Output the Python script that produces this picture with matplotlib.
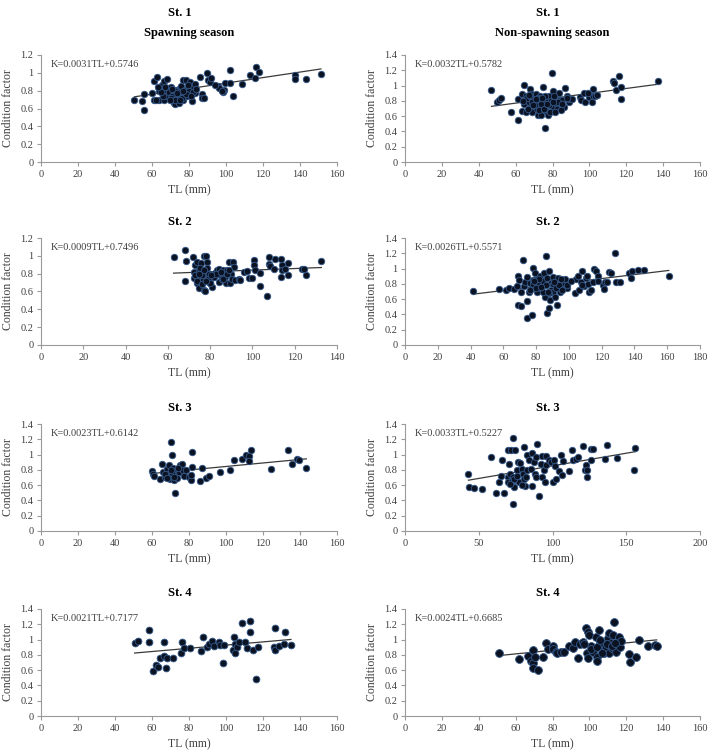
import matplotlib
matplotlib.use("Agg")
import matplotlib.pyplot as plt
import numpy as np

plt.rcParams['font.family'] = ['Liberation Serif', 'DejaVu Serif']

# ---------------- data ----------------
# St.1 spawning season
st1_sp_tl = [50.5, 54.6, 55.5, 55.5, 60, 61.3, 62.7, 61, 63.6, 64, 65.4, 66.3, 66, 66.3, 68, 68.6, 67.4, 68,
             70, 70.8, 71.4, 71.7, 73, 73.5, 72.6, 74.4, 75.3, 76.2, 75.7, 77, 76.8, 78, 78.6, 79, 79.8, 80.7,
             81.6, 82, 83.4, 83, 86, 87, 87, 88.3, 89.7, 90, 91.5, 95.5, 96, 98.7, 98.4, 99.6, 102.3, 102.3,
             103.8, 108.6, 113, 115.5, 116.4, 117.7, 137.5, 137.5, 143.2, 151.3,
             72, 74, 76, 69, 71, 73, 77, 80, 82, 66, 64, 62, 70, 72.5, 74.5, 75, 78.5, 79.5, 69.5, 67, 65, 63,
             71, 73.5, 76.5, 81, 84, 97.7, 94, 91.9]
st1_sp_k = [0.70, 0.686, 0.76, 0.585, 0.77, 0.91, 0.95, 0.70, 0.82, 0.70, 0.865, 0.91, 0.77, 0.70, 0.93, 0.835,
            0.81, 0.735, 0.846, 0.77, 0.70, 0.66, 0.81, 0.735, 0.65, 0.66, 0.83, 0.75, 0.85, 0.92, 0.70, 0.81,
            0.92, 0.735, 0.83, 0.90, 0.68, 0.846, 0.876, 0.77, 0.95, 0.76, 0.715, 0.715, 0.995, 0.92, 0.895,
            0.853, 0.827, 0.81, 0.78, 0.89, 1.03, 0.89, 0.742, 0.872, 0.976, 0.94, 1.06, 1.014, 0.976, 0.93,
            0.93, 0.988,
            0.78, 0.76, 0.72, 0.78, 0.74, 0.80, 0.78, 0.80, 0.78, 0.74, 0.80, 0.69, 0.72, 0.69, 0.79, 0.70,
            0.76, 0.86, 0.70, 0.84, 0.78, 0.84, 0.82, 0.77, 0.80, 0.74, 0.82, 0.80, 0.867, 0.94]

# St.1 non-spawning season
st1_ns_tl = [46.9, 50.1, 51, 52, 57.7, 61.4, 61.4, 63.2, 64.3, 63.2, 64.6, 65.5, 65.5, 67, 67.7, 68.2, 68.6,
             69.1, 70, 70.6, 71, 71.5, 71.9, 72.8, 73.3, 73.7, 74.6, 75.1, 75.1, 76, 76.7, 77.3, 77.8, 78.2,
             79.6, 80, 80.4, 80.9, 82.4, 82.7, 83.3, 84, 85.4, 86.3, 86.9, 87.6, 88.7, 89, 90.5, 94.8, 95.4,
             97.2, 97.7, 99.9, 101.2, 102, 102, 103.2, 112.9, 113.5, 114.2, 116.3, 117.4, 117.4, 137,
             66, 68, 69, 70.5, 72, 73, 74, 76, 78, 79, 81, 83, 85, 66.5, 69.5, 72.5, 75.5, 78.5, 81.5, 64,
             67.5, 71, 74.5, 77, 80, 84.5, 88, 99, 104]
st1_ns_k = [0.944, 0.784, 0.815, 0.836, 0.655, 0.556, 0.82, 0.89, 1.01, 0.664, 0.763, 0.87, 0.655, 0.79, 0.957,
            0.89, 0.72, 0.655, 0.815, 0.763, 0.89, 0.70, 0.62, 0.79, 0.87, 0.62, 0.72, 0.98, 0.79, 0.448,
            0.664, 0.806, 0.61, 0.87, 1.16, 0.935, 0.72, 0.815, 0.763, 0.70, 0.90, 0.806, 0.815, 0.72, 0.97,
            0.87, 0.784, 0.827, 0.827, 0.85, 0.806, 0.90, 0.784, 0.85, 0.784, 0.957, 0.86, 0.87, 1.056, 1.03,
            0.944, 1.13, 0.987, 0.82, 1.056,
            0.84, 0.86, 0.78, 0.74, 0.84, 0.82, 0.76, 0.86, 0.74, 0.80, 0.86, 0.78, 0.76, 0.70, 0.74, 0.68,
            0.70, 0.66, 0.66, 0.80, 0.88, 0.83, 0.84, 0.76, 0.78, 0.68, 0.84, 0.90, 0.88]

# St.2 spawning season
st2_sp_tl = [62.7, 68.3, 68.7, 68, 71.7, 72.2, 72.2, 72.9, 73.8, 73.8, 74.6, 74.9, 75.4, 75.8, 76.5, 77, 77.3,
             77.7, 77.7, 78.2, 78.5, 78.5, 78.8, 79.3, 79.8, 81, 81.4, 82.5, 83.2, 84, 84, 84.8, 85.6, 86.1,
             86.7, 87.5, 88, 88.8, 89.2, 89.9, 90.3, 90.8, 91.1, 91.9, 93.5, 94.3, 95.9, 97.4, 98.2, 99.8,
             100.9, 100.9, 101.4, 103.7, 103.7, 106.9, 107.7, 107.7, 108.2, 110.1, 110.9, 113.7, 114, 113.7,
             114, 115.6, 116.7, 116.8, 123.4, 124.5, 125.5, 132.6,
             73, 74, 75, 76, 77, 79, 80, 82, 83, 85, 87, 88, 76, 74.5, 78, 80.5, 86, 89]
st2_sp_k = [0.988, 1.062, 0.94, 0.72, 0.988, 0.82, 0.757, 0.894, 0.93, 0.69, 0.634, 0.838, 0.764, 0.92, 0.727,
            1.0, 0.622, 0.604, 0.80, 1.0, 0.93, 0.868, 0.727, 0.794, 0.69, 0.652, 0.764, 0.81, 0.838, 0.708,
            0.857, 0.783, 0.745, 0.838, 0.794, 0.69, 0.845, 0.93, 0.69, 0.80, 0.745, 0.93, 0.876, 0.727,
            0.745, 0.727, 0.82, 0.827, 0.757, 0.757, 0.95, 0.894, 0.838, 0.81, 0.66, 0.555, 0.988, 0.913,
            0.883, 0.857, 0.96, 0.96, 0.894, 0.764, 0.845, 0.85, 0.92, 0.783, 0.85, 0.85, 0.783, 0.94,
            0.78, 0.72, 0.86, 0.78, 0.84, 0.74, 0.70, 0.76, 0.80, 0.82, 0.76, 0.80, 0.68, 0.80, 0.72, 0.78,
            0.74, 0.84]

# St.2 non-spawning season
st2_ns_tl = [41.5, 57.4, 61.9, 63.5, 66.6, 68.6, 69.2, 69.6, 69.2, 71, 70.7, 71.7, 72.7, 73.3, 74.3, 74.7,
             74.7, 75.7, 76.2, 77.2, 77.4, 77.8, 78.4, 79.2, 79.8, 80.4, 80.8, 81.9, 82.5, 82.9, 83.9, 84.9,
             85.5, 86.3, 86.5, 86.9, 87.6, 88, 88.6, 89, 89, 90, 90.6, 91.6, 92.6, 92.6, 93.5, 94.5, 95.7,
             97.1, 97.7, 98.6, 103.6, 104.2, 105.3, 105.9, 107.3, 107.9, 109.3, 110.4, 111, 111.4, 112.4,
             113.4, 114.8, 115.5, 116.6, 117.5, 120.6, 121.6, 122.2, 123, 124.6, 125.6, 128.1, 128.7,
             131.1, 136.8, 137.9, 138.5, 141.9, 146, 160.9,
             76, 78, 80, 82, 84, 86, 88, 90, 92, 94, 96, 79, 83, 87, 91, 95, 99, 101, 108, 118]
st2_ns_k = [0.713, 0.735, 0.72, 0.752, 0.735, 0.766, 0.905, 0.853, 0.525, 0.512, 0.687, 1.107, 0.766, 0.83,
            0.888, 0.577, 0.359, 0.687, 0.81, 0.394, 0.744, 1.006, 0.853, 0.94, 0.757, 0.862, 0.687, 0.796,
            0.897, 0.744, 0.84, 0.94, 0.626, 1.16, 0.416, 0.875, 0.962, 0.48, 0.59, 0.72, 0.81, 0.888, 0.70,
            0.634, 0.525, 0.766, 0.875, 0.70, 0.766, 0.81, 0.862, 0.744, 0.678, 0.862, 0.897, 0.72, 0.83,
            0.962, 0.766, 0.875, 0.905, 0.80, 0.687, 0.72, 0.818, 0.997, 0.962, 0.905, 0.787, 0.73, 0.818,
            0.83, 0.95, 0.94, 1.21, 0.83, 0.818, 0.94, 0.875, 0.962, 0.984, 0.984, 0.905,
            0.72, 0.80, 0.74, 0.86, 0.70, 0.78, 0.68, 0.80, 0.74, 0.78, 0.72, 0.84, 0.76, 0.70, 0.82, 0.86,
            0.78, 0.84, 0.78, 0.84]

# St.3 spawning season
st3_sp_tl = [60, 60.5, 61.3, 64.5, 65.4, 66, 66.8, 68.1, 69, 69.5, 69.9, 70.5, 70.8, 71.4, 71.7, 72.6, 72.6,
             73.2, 73.5, 74.4, 75.3, 76.2, 76.8, 77.5, 78.6, 79.8, 81.1, 81.6, 81.6, 81.1, 87, 86.1, 89.2,
             90.6, 96.6, 102.3, 104.1, 108.6, 111, 112.3, 112.3, 113.5, 124.3, 133.3, 135.7, 138.4, 139.3,
             143.4, 67, 68, 71, 74, 70, 72]
st3_sp_k = [0.785, 0.741, 0.715, 0.685, 0.872, 0.772, 0.706, 0.815, 0.859, 0.759, 0.685, 1.164, 0.99, 0.828,
            0.672, 0.50, 0.785, 0.728, 0.698, 0.772, 0.859, 0.88, 0.802, 0.715, 0.794, 0.706, 0.663, 1.034,
            0.837, 0.728, 0.828, 0.654, 0.698, 0.715, 0.772, 0.794, 0.924, 0.938, 0.99, 0.977, 0.911, 1.064,
            0.811, 1.064, 0.872, 0.938, 0.924, 0.828, 0.74, 0.70, 0.76, 0.82, 0.80, 0.71]

# St.3 non-spawning season
st3_ns_tl = [43, 43.4, 46.8, 52, 58.1, 61.5, 63.8, 64.9, 66.1, 67.2, 69.5, 69.5, 70.1, 70.6, 71, 71.7, 72.4,
             72.9, 72.9, 73.3, 74, 74.7, 75.1, 76.2, 76.9, 77.4, 78.1, 79.6, 80.3, 80.8, 80.8, 81.4, 81.9,
             82.6, 83, 84.2, 85.3, 86, 86.4, 87.6, 88.2, 88.7, 89.1, 89.8, 90.9, 92.1, 92.8, 93.2, 94.3, 95,
             95.5, 95.9, 97.7, 98.9, 100, 101.1, 101.8, 102.7, 104.1, 105.7, 106.3, 106.8, 111.3, 112.9,
             113.6, 115.8, 117, 121, 122.2, 122.6, 123.1, 123.1, 126, 126, 127.6, 135.7, 136.7, 143.4, 155,
             156.1, 71.5, 73.8, 76, 79]
st3_ns_k = [0.741, 0.576, 0.567, 0.554, 0.968, 0.497, 0.641, 0.715, 0.924, 0.497, 1.055, 0.706, 0.641, 0.88,
            0.75, 1.055, 0.663, 1.221, 0.358, 0.706, 0.576, 1.055, 0.663, 0.794, 0.902, 0.641, 0.889, 0.815,
            0.75, 1.099, 0.685, 0.585, 0.706, 0.99, 0.794, 0.924, 0.815, 1.02, 0.585, 0.902, 0.741, 0.968,
            0.706, 1.142, 0.454, 0.88, 0.977, 0.706, 0.794, 0.641, 0.977, 0.859, 0.924, 0.902, 0.641, 0.924,
            0.846, 0.685, 0.785, 0.99, 0.728, 0.911, 0.785, 1.055, 0.933, 0.946, 0.968, 1.108, 0.802, 0.859,
            0.706, 0.794, 0.933, 1.077, 1.068, 0.946, 1.13, 0.959, 0.802, 1.086, 0.62, 0.68, 0.72, 0.60]

# St.4 spawning season
st4_sp_tl = [50.6, 52.4, 58.2, 58.4, 60.5, 62.3, 63.2, 64.5, 66.3, 66.3, 67.6, 68.1, 71.4, 75.9, 76.4, 77.5,
             80.4, 86.5, 87.4, 89.7, 90.6, 92.4, 93.3, 96, 96.9, 98.4, 99.1, 103.6, 104.1, 104.7, 105, 105.9,
             106.8, 108.6, 110.1, 111.4, 113.2, 113.2, 114.6, 116.2, 117.1, 126.1, 126.6, 126.6, 128.5,
             131.5, 132.1, 135.1]
st4_sp_k = [0.961, 0.987, 1.128, 0.965, 0.592, 0.667, 0.636, 0.755, 0.974, 0.785, 0.623, 0.755, 0.755, 0.829,
            0.974, 0.886, 0.886, 0.856, 1.04, 0.90, 0.943, 0.987, 0.917, 0.974, 0.93, 0.698, 0.93, 0.864,
            1.04, 0.943, 0.829, 0.90, 0.974, 1.215, 0.974, 0.886, 1.237, 1.093, 0.864, 0.478, 0.90, 0.90,
            1.15, 0.864, 0.917, 0.943, 1.097, 0.93]

# St.4 non-spawning season
st4_ns_tl = [51, 61.9, 66.8, 68.6, 69.3, 69.3, 69.6, 70.4, 72.2, 75.1, 76.4, 77.3, 80, 80.5, 81.8, 82.7, 84.5,
             86.3, 89, 91.2, 92.1, 93.6, 94.8, 96.3, 98.2, 98.5, 99, 99.4, 99.9, 100.8, 102.1, 103.5, 103.9,
             104.4, 105, 105.7, 106.6, 107.1, 108.1, 109, 109.9, 110.4, 110.8, 111.7, 112.2, 112.9, 113.5,
             114.4, 116.2, 116.6, 117.1, 121.3, 122, 125.2, 126.7, 131.6, 135.6, 136.5,
             101, 104, 107, 109.5, 112, 106, 114, 97]
st4_ns_k = [0.82, 0.742, 0.785, 0.724, 0.864, 0.689, 0.623, 0.768, 0.601, 0.768, 0.961, 0.878, 0.917, 0.873,
            0.842, 0.82, 0.842, 0.842, 0.917, 0.886, 0.974, 0.764, 0.943, 0.974, 1.15, 0.82, 1.093, 0.755,
            1.062, 0.917, 0.842, 1.04, 0.768, 0.724, 1.128, 0.974, 0.864, 0.952, 0.82, 0.908, 1.018, 1.084,
            0.82, 0.961, 0.886, 1.062, 1.224, 0.842, 1.04, 0.9, 0.987, 0.812, 0.711, 0.768, 0.996, 0.917,
            0.93, 0.917,
            0.88, 0.90, 0.82, 0.94, 0.92, 1.0, 0.96, 0.94]

slopes = [0.0031, 0.0032, 0.0009, 0.0026, 0.0023, 0.0033, 0.0021, 0.0024]
intercepts = [0.5746, 0.5782, 0.7496, 0.5571, 0.6142, 0.5227, 0.7177, 0.6685]
equations = ["K=0.0031TL+0.5746", "K=0.0032TL+0.5782", "K=0.0009TL+0.7496", "K=0.0026TL+0.5571",
             "K=0.0023TL+0.6142", "K=0.0033TL+0.5227", "K=0.0021TL+0.7177", "K=0.0024TL+0.6685"]
titles = ["St. 1", "St. 1", "St. 2", "St. 2", "St. 3", "St. 3", "St. 4", "St. 4"]
season_titles = ["Spawning season", "Non-spawning season"]
x_max = [160, 160, 140, 180, 160, 200, 160, 160]
x_step = [20, 20, 20, 20, 20, 50, 20, 20]
y_max = [1.2, 1.4, 1.2, 1.4, 1.4, 1.4, 1.4, 1.4]

tl_data = [st1_sp_tl, st1_ns_tl, st2_sp_tl, st2_ns_tl, st3_sp_tl, st3_ns_tl, st4_sp_tl, st4_ns_tl]
k_data = [st1_sp_k, st1_ns_k, st2_sp_k, st2_ns_k, st3_sp_k, st3_ns_k, st4_sp_k, st4_ns_k]

# ---------------- layout ----------------
W, H = 713, 756
fig = plt.figure(figsize=(W / 100, H / 100), dpi=100)

col_left = [41, 405]
col_width = [296, 295]
row_bottom = [162, 345, 531, 716]
ax_h = 107
marker_size = [22, 22, 22, 22, 22, 22, 24, 32]

axis_gray = '#9a9a9a'
text_gray = '#404040'

for i in range(8):
    r, c = divmod(i, 2)
    left = col_left[c] / W
    bottom = 1 - row_bottom[r] / H
    ax = fig.add_axes([left, bottom, col_width[c] / W, ax_h / H])
    x = np.array(tl_data[i])
    y = np.array(k_data[i])
    ax.scatter(x, y, s=marker_size[i], facecolor='#0b1222', edgecolor='#34598a',
               linewidths=0.6, zorder=3)
    xs = np.array([x.min(), x.max()])
    ax.plot(xs, slopes[i] * xs + intercepts[i], color='#3a3a3a', lw=0.9, zorder=2)

    ax.set_xlim(0, x_max[i])
    ax.set_ylim(0, y_max[i])
    ax.set_xticks(np.arange(0, x_max[i] + 0.1, x_step[i]))
    yt = np.round(np.arange(0, y_max[i] + 0.01, 0.2), 1)
    ax.set_yticks(yt)
    ax.set_yticklabels(['0' if v == 0 else ('1' if v == 1 else f'{v:.1f}') for v in yt])

    for s in ['top', 'right']:
        ax.spines[s].set_visible(False)
    for s in ['left', 'bottom']:
        ax.spines[s].set_color(axis_gray)
        ax.spines[s].set_linewidth(0.8)
    ax.tick_params(axis='both', direction='out', length=3, width=0.8, color=axis_gray,
                   labelsize=7.5, labelcolor=text_gray, pad=2.5)

    ax.set_ylabel('Condition factor', fontsize=8.5, color=text_gray)
    ax.set_xlabel('TL (mm)', fontsize=8.5, color=text_gray)
    ax.yaxis.set_label_coords(-27 / col_width[c], 0.5)
    ax.xaxis.set_label_coords(0.5, -22 / ax_h)

    ax.text(0.033, 0.91, equations[i], transform=ax.transAxes, fontsize=7.5, color=text_gray,
            va='center', ha='left')

    tx = 0.47 if c == 0 else 0.485
    if r == 0:
        ax.text(tx, (162 - 13) / ax_h, titles[i], transform=ax.transAxes, fontsize=9,
                fontweight='bold', ha='center', va='center')
        ax.text(0.5, (162 - 33) / ax_h, season_titles[c], transform=ax.transAxes, fontsize=9,
                fontweight='bold', ha='center', va='center')
    else:
        ax.text(tx, 1 + 16 / ax_h, titles[i], transform=ax.transAxes, fontsize=9,
                fontweight='bold', ha='center', va='center')

fig.savefig('out.png', dpi=100)
